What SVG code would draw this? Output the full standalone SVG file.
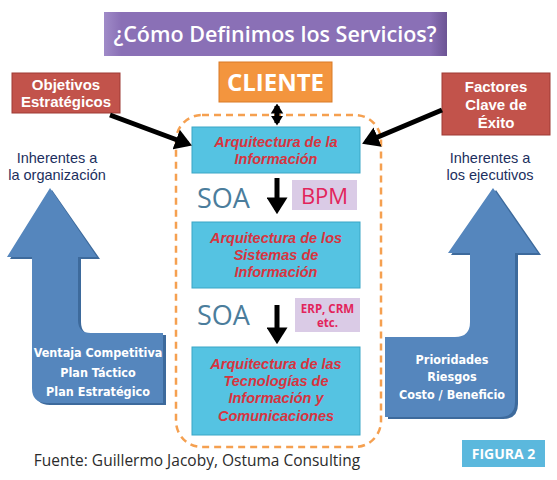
<svg xmlns="http://www.w3.org/2000/svg" width="557" height="480" viewBox="0 0 557 480">
<style>
.t{font-family:"Open Sans","Liberation Sans",sans-serif;}
.red{fill:#d8343f;font-family:"Liberation Sans","Open Sans",sans-serif;font-weight:700;font-style:italic;font-size:14.5px;text-anchor:middle;}
.box{fill:#55c3e2;stroke:#3aa6c6;stroke-width:1;}
.wh{fill:#fff;font-family:"Open Sans","Liberation Sans",sans-serif;font-weight:700;text-anchor:middle;}
.wl{fill:#fff;font-family:"Liberation Sans","Open Sans",sans-serif;font-weight:700;font-size:15px;text-anchor:middle;}
.cond{fill:#fff;font-family:"DejaVu Sans Condensed","Liberation Sans Narrow",sans-serif;font-weight:700;font-size:12.5px;text-anchor:middle;}
.inh{fill:#1c2f5e;font-family:"Liberation Sans","Open Sans",sans-serif;font-size:14.5px;text-anchor:middle;}
.soa{fill:#4b7d9c;font-family:"Open Sans","Liberation Sans",sans-serif;font-size:27px;}
.big{fill:#5586bd;}
.shade{fill:#3d6a9c;}
</style>
<defs>
<marker id="ah" viewBox="0 0 8 10" refX="6" refY="5" markerWidth="3.4" markerHeight="4.2" orient="auto-start-reverse"><path d="M0,0 L8,5 L0,10 Z" fill="#000"/></marker>
<marker id="as" viewBox="0 0 8 10" refX="6" refY="5" markerWidth="2" markerHeight="3.2" orient="auto-start-reverse"><path d="M0,0 L8,5 L0,10 Z" fill="#000"/></marker>
<linearGradient id="pg" x1="0" y1="0" x2="1" y2="0"><stop offset="0" stop-color="#a08bc8"/><stop offset="0.05" stop-color="#8a70b6"/><stop offset="0.95" stop-color="#8a70b6"/><stop offset="1" stop-color="#6c5494"/></linearGradient>
</defs>

<g id="title">
<rect x="104" y="12" width="343" height="44" fill="url(#pg)"/>
<text x="275" y="42" class="wh" style="font-weight:600;font-size:21.5px">¿Cómo Definimos los Servicios?</text>
</g>

<g id="cliente">
<rect x="219" y="62" width="113" height="40" fill="#f3953e" stroke="#d97a26" stroke-width="1"/>
<text x="275.5" y="91" class="wh" style="font-size:24px">CLIENTE</text>
</g>

<g id="objetivos">
<rect x="12" y="73" width="108" height="40" fill="#c2534b" stroke="#9e3a34" stroke-width="1"/>
<text x="66" y="90" class="wl">Objetivos</text>
<text x="66" y="107" class="wl">Estratégicos</text>
</g>

<g id="factores">
<rect x="442" y="73" width="108" height="62" fill="#c2534b" stroke="#9e3a34" stroke-width="1"/>
<text x="496" y="92" class="wl">Factores</text>
<text x="496" y="110" class="wl">Clave de</text>
<text x="496" y="128" class="wl">Éxito</text>
</g>

<g id="frame">
<rect x="176" y="115" width="205" height="332" rx="26" fill="none" stroke="#f5a050" stroke-width="2.5" stroke-dasharray="7,5"/>
</g>

<g id="inh-left">
<text x="57" y="163" class="inh">Inherentes a</text>
<text x="57" y="180" class="inh">la organización</text>
</g>
<g id="inh-right">
<text x="490" y="163" class="inh">Inherentes a</text>
<text x="490" y="180" class="inh">los ejecutivos</text>
</g>

<g id="arq1">
<rect x="192" y="127" width="168" height="46" class="box"/>
<text x="276" y="147" class="red">Arquitectura de la</text>
<text x="276" y="164" class="red">Información</text>
</g>

<g id="soa1">
<text x="197" y="208" class="soa">SOA</text>
</g>
<g id="bpm">
<rect x="292" y="180" width="65" height="30" fill="#dacbe6"/>
<text x="324.5" y="204" style="fill:#e2245b;font-family:'Open Sans','Liberation Sans',sans-serif;font-size:22px;text-anchor:middle">BPM</text>
</g>

<g id="arq2">
<rect x="192" y="222" width="168" height="66" class="box"/>
<text x="276" y="243" class="red">Arquitectura de los</text>
<text x="276" y="260" class="red">Sistemas de</text>
<text x="276" y="277" class="red">Información</text>
</g>

<g id="soa2">
<text x="197" y="325" class="soa">SOA</text>
</g>
<g id="erp">
<rect x="295" y="298" width="65" height="34" fill="#dacbe6"/>
<text x="327.5" y="313" style="fill:#e2245b;font-family:'Open Sans','Liberation Sans',sans-serif;font-weight:700;font-size:11.5px;text-anchor:middle">ERP, CRM</text>
<text x="327.5" y="327" style="fill:#e2245b;font-family:'Open Sans','Liberation Sans',sans-serif;font-weight:700;font-size:11.5px;text-anchor:middle">etc.</text>
</g>

<g id="arq3">
<rect x="192" y="347" width="168" height="88" class="box"/>
<text x="276" y="369" class="red">Arquitectura de las</text>
<text x="276" y="386" class="red">Tecnologías de</text>
<text x="276" y="403" class="red">Información y</text>
<text x="276" y="421" class="red">Comunicaciones</text>
</g>

<g id="arrow-left">
<path class="shade" d="M52 190 L100 259 L81 259 L81 322 Q81 335 94 335 L166 335 L166 405 L50 405 Q35 405 35 390 L35 259 L10 259 Z"/>
<path class="big" d="M50 188 L97 257 L78 257 L78 320 Q78 333 91 333 L163 333 L163 403 L47 403 Q32 403 32 388 L32 257 L7 257 Z"/>
<text x="98" y="357" class="cond">Ventaja Competitiva</text>
<text x="98" y="377" class="cond">Plan Táctico</text>
<text x="98" y="396" class="cond">Plan Estratégico</text>
</g>

<g id="arrow-right">
<path class="shade" d="M496 190 L541 255 L518 255 L518 404 Q518 419 503 419 L388 419 L388 339 L458 339 Q473 339 473 324 L473 255 L451 255 Z"/>
<path class="big" d="M493 188 L538 253 L515 253 L515 402 Q515 417 500 417 L385 417 L385 337 L455 337 Q470 337 470 322 L470 253 L448 253 Z"/>
<text x="452" y="364" class="cond">Prioridades</text>
<text x="452" y="381" class="cond">Riesgos</text>
<text x="452" y="399" class="cond">Costo / Beneficio</text>
</g>

<g id="connectors" stroke="#000" stroke-width="5" fill="none">
<line x1="110" y1="115" x2="188" y2="144" marker-end="url(#ah)"/>
<line x1="442" y1="110" x2="366" y2="142" marker-end="url(#ah)"/>
<line x1="277" y1="106" x2="277" y2="123" marker-start="url(#as)" marker-end="url(#as)"/>
<line x1="277" y1="178" x2="277" y2="210" marker-end="url(#ah)"/>
<line x1="277" y1="305" x2="277" y2="340" marker-end="url(#ah)"/>
</g>

<g id="fuente">
<text x="197" y="466" class="t" style="fill:#2b2b2b;font-size:15.5px;text-anchor:middle">Fuente: Guillermo Jacoby, Ostuma Consulting</text>
</g>

<g id="figura">
<rect x="462" y="440" width="83" height="27" fill="#5bb8dd"/>
<text x="503.5" y="459" class="wh" style="font-size:14px">FIGURA 2</text>
</g>
</svg>
